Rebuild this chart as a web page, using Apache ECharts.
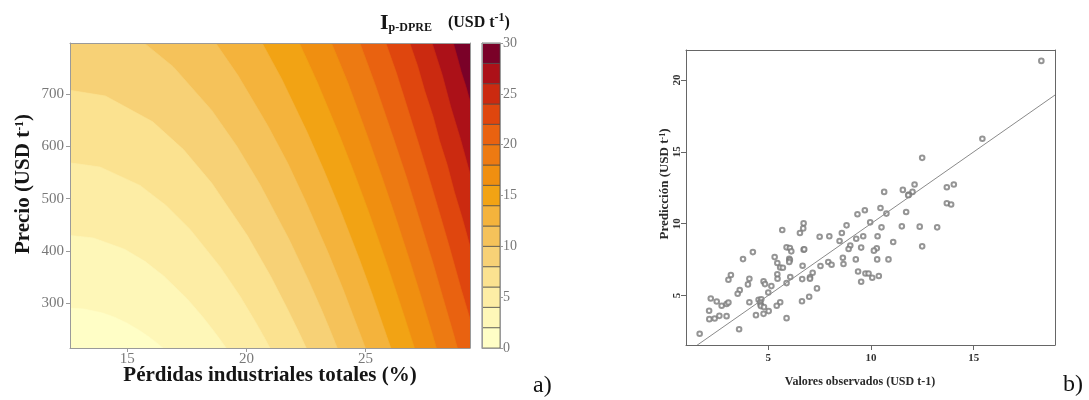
<!DOCTYPE html>
<html><head><meta charset="utf-8">
<script src="https://cdn.jsdelivr.net/npm/echarts@6/dist/echarts.min.js"></script>
<style>html,body{margin:0;padding:0;background:#fff}#c{width:1089px;height:400px}</style>
</head><body><div id="c"></div>
<script>
// ---------- Panel a: contour of I_p-DPRE ----------
const lossRange = [12.6, 29.38];
const priceRange = [214, 798];
const lossTicks = [15, 20, 25];
const priceTicks = [300, 400, 500, 600, 700];
const levels = [2, 4, 6, 8, 10, 12, 14, 16, 18, 20, 22, 24, 26, 28];
const colorbarTicks = [0, 5, 10, 15, 20, 25, 30];
const bandColors = ['#FFFEC6', '#FEF7B8', '#FDEDA5', '#FBE290', '#F7D176', '#F5C25A', '#F4B33C',
  '#F2A314', '#F08F10', '#ED7A12', '#E96210', '#DF460E', '#CB2A10', '#AC1118', '#7A0128'];
// isoline positions [loss %, price], one list per level
const isolines = [
  [[12.6,290.5],[13.19,288.8],[13.97,281.1],[14.47,272.9],[14.94,262.9],[15.52,247.5],[15.91,235.2],[16.19,225.7],[16.38,218.5],[16.5,214]],
  [[12.6,429.5],[13.58,424.7],[14.89,403.1],[15.74,379.9],[16.53,351.9],[17.51,308.3],[18.16,273.8],[18.62,247.1],[18.95,226.7],[19.15,214]],
  [[12.6,568.6],[13.86,560.6],[15.54,525.2],[16.63,486.9],[17.64,441.0],[18.9,369.2],[19.74,312.5],[20.32,268.5],[20.74,235.0],[20.99,214]],
  [[12.6,707.6],[14.09,696.5],[16.07,647.2],[17.36,593.9],[18.54,530.0],[20.03,429.9],[21.02,351.0],[21.71,289.8],[22.21,243.1],[22.51,214]],
  [[15.71,798],[16.93,752.5],[18.55,668.8],[19.6,600.2],[20.57,526.9],[21.79,421.9],[22.6,343.8],[23.17,285.1],[23.57,241.2],[23.81,214]],
  [[18.71,798],[19.65,735.7],[20.91,638.6],[21.74,567.1],[22.48,495.1],[23.42,397.1],[24.05,326.8],[24.48,275.3],[24.8,237.1],[24.99,214]],
  [[20.66,798],[21.48,729.1],[22.55,627.0],[23.25,554.2],[23.9,482.7],[24.71,387.4],[25.25,320.3],[25.62,271.6],[25.89,235.9],[26.06,214]],
  [[22.22,798],[22.95,725.3],[23.91,620.2],[24.54,546.9],[25.12,475.6],[25.84,381.9],[26.32,316.4],[26.66,269.2],[26.9,234.8],[27.05,214]],
  [[23.57,798],[24.25,722.7],[25.11,615.7],[25.68,542.0],[26.21,470.9],[26.87,378.4],[27.31,314.2],[27.62,267.8],[27.84,234.4],[27.97,214]],
  [[24.76,798],[25.38,721.1],[26.19,612.7],[26.73,538.7],[27.21,467.7],[27.83,375.8],[28.23,312.3],[28.52,266.9],[28.73,233.9],[28.85,214]],
  [[25.85,798],[26.29,741.0],[26.73,677.3],[27.18,611.7],[27.6,549.2],[28.02,484.9],[28.48,413.1],[29.0,328.0],[29.38,269.6]],
  [[26.85,798],[27.18,754.4],[27.48,706.4],[27.83,657.4],[28.1,611.1],[28.43,563.9],[28.73,511.7],[29.08,458.8],[29.38,408.7]],
  [[27.79,798],[28.21,737.6],[28.57,675.9],[28.99,612.5],[29.38,547.7]],
  [[28.68,798],[28.85,770.4],[29.01,742.9],[29.21,714.8],[29.38,686.8]]
];

// ---------- Panel b: observed vs predicted ----------
const observed = [18.29,15.42,12.49,11.55,12.12,12.02,11.84,11.81,10.64,13.69,
  14.03,13.69,13.90,11.71,10.75,10.46,9.70,9.34,9.96,11.50,
  12.37,13.22,10.51,8.81,8.58,9.62,10.32,9.28,8.47,7.50,
  7.97,11.08,12.49,8.99,8.91,9.52,10.28,10.14,8.63,9.26,
  10.30,10.85,8.66,7.92,8.08,7.54,9.37,9.73,9.88,10.38,
  10.06,9.52,6.67,6.65,7.16,7.03,7.03,7.37,6.99,6.64,
  6.72,6.70,6.54,5.68,6.72,6.75,5.89,6.05,6.12,6.02,
  6.05,6.02,5.31,5.44,5.58,5.71,6.07,5.44,5.45,5.15,
  5.00,5.89,5.58,5.41,5.89,5.02,4.77,4.77,4.84,4.25,
  3.77,4.08,4.01,3.18,3.06,3.61,3.51,4.08,4.53,4.66,
  4.61,4.63,4.64,4.79,4.40,2.20,2.49,2.73,2.97,3.06,
  2.12,2.13,2.39,2.62,2.97,3.58,1.66];
const predicted = [21.33,15.91,14.58,12.35,12.72,12.21,12.02,11.98,12.21,12.53,
  12.72,11.42,11.33,10.81,10.70,11.09,10.93,10.65,10.09,9.81,
  9.79,9.74,9.74,9.88,9.35,9.12,9.12,8.95,8.79,9.09,
  9.12,8.72,8.42,8.47,8.23,8.33,8.28,8.12,7.63,7.51,
  7.51,7.51,7.19,7.33,7.14,7.05,6.67,6.53,6.53,6.35,
  6.23,5.95,7.07,6.14,6.58,6.26,6.16,5.49,4.91,4.60,
  10.02,9.67,9.35,9.56,8.19,8.21,8.35,8.30,8.07,7.56,
  7.47,7.33,7.67,7.26,6.95,6.93,6.28,6.47,6.16,5.65,
  5.21,5.86,4.53,4.28,3.42,3.91,3.72,5.98,5.79,8.02,
  7.53,6.16,5.77,6.42,6.09,5.37,5.12,4.53,4.70,4.74,
  4.51,4.35,4.26,4.19,3.63,4.79,4.58,4.28,4.40,4.51,
  3.93,3.35,3.40,3.58,3.56,2.65,2.33];
const obsRange = [0.995, 18.955];
const predRange = [1.55, 22.09];
const obsTicks = [5, 10, 15];
const predTicks = [5, 10, 15, 20];
const identityLine = [0, 25];

// ---------- build ----------
const serif = "'Liberation Serif', 'DejaVu Serif', serif";
const chart = echarts.init(document.getElementById('c'), null, {renderer: 'canvas'});

const contourData = levels.map((l, j) => [lossRange[0], priceRange[0], j]).reverse();
const bandData = bandColors.map((c, k) => [0, 2 * k, 2 * k + 2, k]);
const scatterData = observed.map((o, i) => [o, predicted[i]]);

function borderAxis(gridIndex, min, max, position, color) {
  return {gridIndex, type: 'value', min, max, position, z: 5,
    axisLine: {show: true, onZero: false, lineStyle: {color, width: 1}},
    axisTick: {show: false}, axisLabel: {show: false}, splitLine: {show: false}};
}

const aCol = '#9a9a9a', aLab = '#787878', bCol = '#666';

const option = {
  animation: false,
  backgroundColor: '#fff',
  grid: [
    {left: 70, right: 619, top: 43, bottom: 52, show: true, backgroundColor: bandColors[14], borderWidth: 0},
    {left: 482, right: 589, top: 43, bottom: 52},
    {left: 686, right: 34, top: 50, bottom: 55}
  ],
  xAxis: [
    {gridIndex: 0, type: 'value', min: lossRange[0], max: lossRange[1], position: 'bottom', z: 5,
      axisLine: {show: true, onZero: false, lineStyle: {color: aCol, width: 1}},
      axisTick: {show: true, length: 4, lineStyle: {color: aCol}, customValues: lossTicks},
      axisLabel: {color: aLab, fontSize: 15, fontFamily: serif, margin: 4, customValues: lossTicks},
      splitLine: {show: false}},
    borderAxis(0, lossRange[0], lossRange[1], 'top', aCol),
    borderAxis(1, 0, 1, 'bottom', aCol),
    borderAxis(1, 0, 1, 'top', aCol),
    {gridIndex: 2, type: 'value', min: obsRange[0], max: obsRange[1], position: 'bottom', z: 5,
      axisLine: {show: true, onZero: false, lineStyle: {color: bCol, width: 1}},
      axisTick: {show: true, length: 5, lineStyle: {color: bCol}, customValues: obsTicks},
      axisLabel: {color: '#333', fontSize: 11, fontWeight: 'bold', fontFamily: serif, margin: 8, customValues: obsTicks},
      splitLine: {show: false}},
    borderAxis(2, obsRange[0], obsRange[1], 'top', bCol)
  ],
  yAxis: [
    {gridIndex: 0, type: 'value', min: priceRange[0], max: priceRange[1], position: 'left', z: 5,
      axisLine: {show: true, onZero: false, lineStyle: {color: aCol, width: 1}},
      axisTick: {show: true, length: 4, lineStyle: {color: aCol}, customValues: priceTicks},
      axisLabel: {color: aLab, fontSize: 15, fontFamily: serif, margin: 6, customValues: priceTicks},
      splitLine: {show: false}},
    borderAxis(0, priceRange[0], priceRange[1], 'right', aCol),
    {gridIndex: 1, type: 'value', min: 0, max: 30, position: 'right', z: 5,
      axisLine: {show: true, onZero: false, lineStyle: {color: aCol, width: 1}},
      axisTick: {show: true, length: 3, lineStyle: {color: aCol}, customValues: colorbarTicks},
      axisLabel: {color: aLab, fontSize: 14, fontFamily: serif, margin: 3, customValues: colorbarTicks},
      splitLine: {show: false}},
    borderAxis(1, 0, 30, 'left', aCol),
    {gridIndex: 2, type: 'value', min: predRange[0], max: predRange[1], position: 'left', z: 5,
      axisLine: {show: true, onZero: false, lineStyle: {color: bCol, width: 1}},
      axisTick: {show: true, length: 5, lineStyle: {color: bCol}, customValues: predTicks},
      axisLabel: {color: '#333', fontSize: 11, fontWeight: 'bold', fontFamily: serif, margin: 3, rotate: 90, customValues: predTicks},
      splitLine: {show: false}},
    borderAxis(2, predRange[0], predRange[1], 'right', bCol)
  ],
  series: [
    {type: 'custom', xAxisIndex: 0, yAxisIndex: 0, clip: true, silent: true,
      data: contourData, encode: {x: 0, y: 1},
      renderItem: function (params, api) {
        const j = api.value(2);
        const line = isolines[j];
        const first = line[0], last = line[line.length - 1];
        const pts = [[lossRange[0], first[1]]].concat(line,
          [[last[0], priceRange[0]], [lossRange[0], priceRange[0]]]);
        return {type: 'polygon', z2: 30 - j,
          shape: {points: pts.map(p => api.coord(p))},
          style: {fill: bandColors[j], stroke: bandColors[j], lineWidth: 0.6}};
      }},
    {type: 'custom', xAxisIndex: 2, yAxisIndex: 2, silent: true,
      data: bandData, encode: {x: 0, y: 1},
      renderItem: function (params, api) {
        const a = api.coord([0, api.value(1)]);
        const b = api.coord([1, api.value(2)]);
        return {type: 'rect',
          shape: {x: a[0], y: b[1], width: b[0] - a[0], height: a[1] - b[1]},
          style: {fill: bandColors[api.value(3)], stroke: '#4a4a4a', lineWidth: 0.7}};
      }},
    {type: 'line', xAxisIndex: 4, yAxisIndex: 4, clip: true, silent: true, symbol: 'none',
      data: [[identityLine[0], identityLine[0]], [identityLine[1], identityLine[1]]],
      lineStyle: {color: '#8a8a8a', width: 1}},
    {type: 'scatter', xAxisIndex: 4, yAxisIndex: 4, silent: true,
      symbol: 'emptyCircle', symbolSize: 4.6, data: scatterData,
      itemStyle: {color: '#7a7a7a', borderColor: '#7a7a7a', borderWidth: 0.6}}
  ],
  graphic: [
    {type: 'text', x: 24, y: 184, rotation: Math.PI / 2,
      style: {text: '{m|Precio (USD t}{s|-1}{m|)}', align: 'center', verticalAlign: 'middle',
        textAlign: 'center', textVerticalAlign: 'middle',
        rich: {m: {font: 'bold 21px ' + serif, fill: '#151515'},
               s: {font: 'bold 12px ' + serif, fill: '#151515', verticalAlign: 'top'}}}},
    {type: 'text', x: 270, y: 376,
      style: {text: 'Pérdidas industriales totales (%)', font: 'bold 21px ' + serif, fill: '#151515',
        align: 'center', verticalAlign: 'middle', textAlign: 'center', textVerticalAlign: 'middle'}},
    {type: 'text', x: 380, y: 23,
      style: {text: '{I|I}{sub|p-DPRE}{m|    (USD t}{sup|-1}{m|)}', align: 'left', verticalAlign: 'middle',
        textAlign: 'left', textVerticalAlign: 'middle',
        rich: {I: {font: 'bold 22px ' + serif, fill: '#151515'},
               sub: {font: 'bold 12px ' + serif, fill: '#151515', verticalAlign: 'bottom'},
               m: {font: 'bold 16px ' + serif, fill: '#151515'},
               sup: {font: 'bold 12px ' + serif, fill: '#151515', verticalAlign: 'top'}}}},
    {type: 'text', x: 533, y: 386,
      style: {text: 'a)', font: '24px ' + serif, fill: '#111', align: 'left', verticalAlign: 'middle',
        textAlign: 'left', textVerticalAlign: 'middle'}},
    {type: 'text', x: 665, y: 184, rotation: Math.PI / 2,
      style: {text: '{m|Predicción (USD t}{s|-1}{m|)}', align: 'center', verticalAlign: 'middle',
        textAlign: 'center', textVerticalAlign: 'middle',
        rich: {m: {font: 'bold 13px ' + serif, fill: '#2a2a2a'},
               s: {font: 'bold 8px ' + serif, fill: '#2a2a2a', verticalAlign: 'top'}}}},
    {type: 'text', x: 860, y: 382,
      style: {text: 'Valores observados (USD t-1)', font: 'bold 12px ' + serif, fill: '#2a2a2a',
        align: 'center', verticalAlign: 'middle', textAlign: 'center', textVerticalAlign: 'middle'}},
    {type: 'text', x: 1063, y: 385,
      style: {text: 'b)', font: '24px ' + serif, fill: '#111', align: 'left', verticalAlign: 'middle',
        textAlign: 'left', textVerticalAlign: 'middle'}}
  ]
};
chart.setOption(option);
</script>
</body></html>
